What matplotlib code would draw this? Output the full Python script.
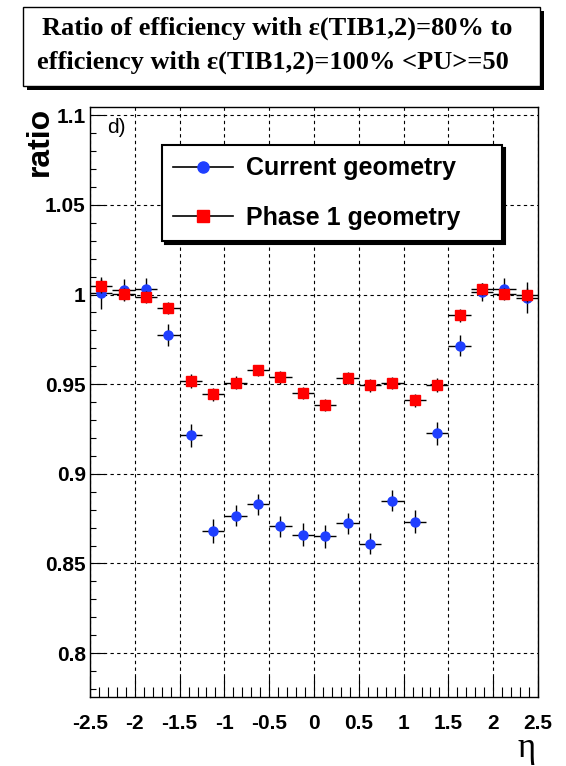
import matplotlib
matplotlib.use("Agg")
import matplotlib.pyplot as plt
from matplotlib.lines import Line2D
from matplotlib.patches import Rectangle
from matplotlib.ticker import MultipleLocator, FuncFormatter

# eta bin centres (bin width 0.25)
eta = [-2.375, -2.125, -1.875, -1.625, -1.375, -1.125, -0.875, -0.625, -0.375, -0.125,
       0.125, 0.375, 0.625, 0.875, 1.125, 1.375, 1.625, 1.875, 2.125, 2.375]
eta_half_width = [0.125] * len(eta)

current = [1.0010, 1.0024, 1.0030, 0.9774, 0.9214, 0.8680, 0.8767, 0.8830, 0.8707, 0.8660,
           0.8652, 0.8724, 0.8610, 0.8850, 0.8733, 0.9225, 0.9715, 1.0015, 1.0033, 0.9983]
current_err = [0.0090, 0.0060, 0.0060, 0.0060, 0.0065, 0.0067, 0.0060, 0.0060, 0.0060, 0.0065,
               0.0065, 0.0060, 0.0060, 0.0060, 0.0065, 0.0065, 0.0060, 0.0050, 0.0060, 0.0085]

phase1 = [1.0046, 1.0002, 0.9987, 0.9925, 0.9516, 0.9443, 0.9508, 0.9577, 0.9538, 0.9450,
          0.9385, 0.9534, 0.9493, 0.9506, 0.9410, 0.9497, 0.9884, 1.0031, 1.0002, 0.9996]
phase1_err = [0.0040, 0.0035, 0.0035, 0.0035, 0.0040, 0.0035, 0.0035, 0.0030, 0.0035, 0.0035,
              0.0035, 0.0035, 0.0035, 0.0035, 0.0035, 0.0040, 0.0035, 0.0035, 0.0035, 0.0040]

BLUE = "#1f3fff"
RED = "#ff0000"
SANS = "Liberation Sans"
SERIF = "Liberation Serif"

W, H = 566, 766
AX_L, AX_T, AX_W, AX_H = 90, 107, 448, 590
fig = plt.figure(figsize=(W / 100, H / 100), dpi=100)
ax = fig.add_axes([AX_L / W, 1 - (AX_T + AX_H) / H, AX_W / W, AX_H / H])

ax.errorbar(eta, current, yerr=current_err, xerr=eta_half_width, fmt="o",
            color=BLUE, ms=6.5, ecolor="black", elinewidth=1, capsize=0, zorder=3)
ax.errorbar(eta, phase1, yerr=phase1_err, xerr=eta_half_width, fmt="s",
            color=RED, ms=7, ecolor="black", elinewidth=1, capsize=0, zorder=4)

ax.set_xlim(-2.5, 2.5)
ax.set_ylim(0.7755, 1.1046)
ax.xaxis.set_major_locator(MultipleLocator(0.5))
ax.xaxis.set_minor_locator(MultipleLocator(0.1))
ax.yaxis.set_major_locator(MultipleLocator(0.05))
ax.yaxis.set_minor_locator(MultipleLocator(0.01))
fmt = FuncFormatter(lambda v, p: f"{v:g}")
ax.xaxis.set_major_formatter(fmt)
ax.yaxis.set_major_formatter(fmt)

ax.tick_params(axis="x", which="major", direction="in", length=15, width=0.8, pad=12,
               top=False, labelsize=15)
ax.tick_params(axis="x", which="minor", direction="in", length=7, width=0.8, top=False)
ax.tick_params(axis="y", which="major", direction="in", length=11, width=0.8, pad=3,
               right=False, labelsize=15)
ax.tick_params(axis="y", which="minor", direction="in", length=4.3, width=0.8, right=False)
for lab in ax.get_xticklabels() + ax.get_yticklabels():
    lab.set_fontfamily(SANS)
    lab.set_fontweight("bold")

ax.grid(True, which="major", color="black", linestyle=(0, (3, 3)), linewidth=0.8)
for sp in ax.spines.values():
    sp.set_linewidth(1.0)

ax.text((107 - AX_L) / AX_W, 1 - (127 - AX_T) / AX_H, "d)", transform=ax.transAxes,
        fontsize=15, family=SANS, va="center", ha="left")

handles = [
    Line2D([], [], color="black", lw=1.2, marker="o", ms=8, mfc=BLUE, mec=BLUE),
    Line2D([], [], color="black", lw=1.2, marker="s", ms=8, mfc=RED, mec=RED),
]
leg = ax.legend(handles, ["Current geometry", "Phase 1 geometry"],
                loc="upper left", mode="expand",
                bbox_to_anchor=(162 / W, 1 - 145 / H - 0.01, 340 / W, 0.01),
                bbox_transform=fig.transFigure, borderaxespad=0,
                prop={"family": SANS, "weight": "bold", "size": 18},
                handlelength=2.4, handletextpad=0.5, borderpad=0.45,
                labelspacing=1.03, fancybox=False, framealpha=1,
                shadow={"color": "black", "alpha": 1})
leg.get_frame().set_edgecolor("black")
leg.get_frame().set_linewidth(1.5)

# title box with shadow
fig.add_artist(Rectangle((27 / W, 1 - 90 / H), 517 / W, 79 / H,
                         transform=fig.transFigure, facecolor="black", edgecolor="none"))
fig.add_artist(Rectangle((23 / W, 1 - 86 / H), 517 / W, 79 / H,
                         transform=fig.transFigure, facecolor="white", edgecolor="black",
                         linewidth=1.0))
fig.text(277 / W, 1 - 28 / H, "Ratio of efficiency with \u03b5(TIB1,2)=80% to",
         ha="center", va="center", family=SERIF, weight="bold", fontsize=19)
fig.text(273 / W, 1 - 62 / H, "efficiency with \u03b5(TIB1,2)=100% <PU>=50",
         ha="center", va="center", family=SERIF, weight="bold", fontsize=19)

fig.text(40 / W, 1 - 107 / H, "ratio", rotation=90, ha="center", va="top",
         family=SANS, weight="bold", fontsize=23)
fig.text(527 / W, 1 - 757 / H, "\u03b7", ha="center", va="baseline",
         family=SERIF, fontsize=25)

fig.savefig("out.png", dpi=100)
